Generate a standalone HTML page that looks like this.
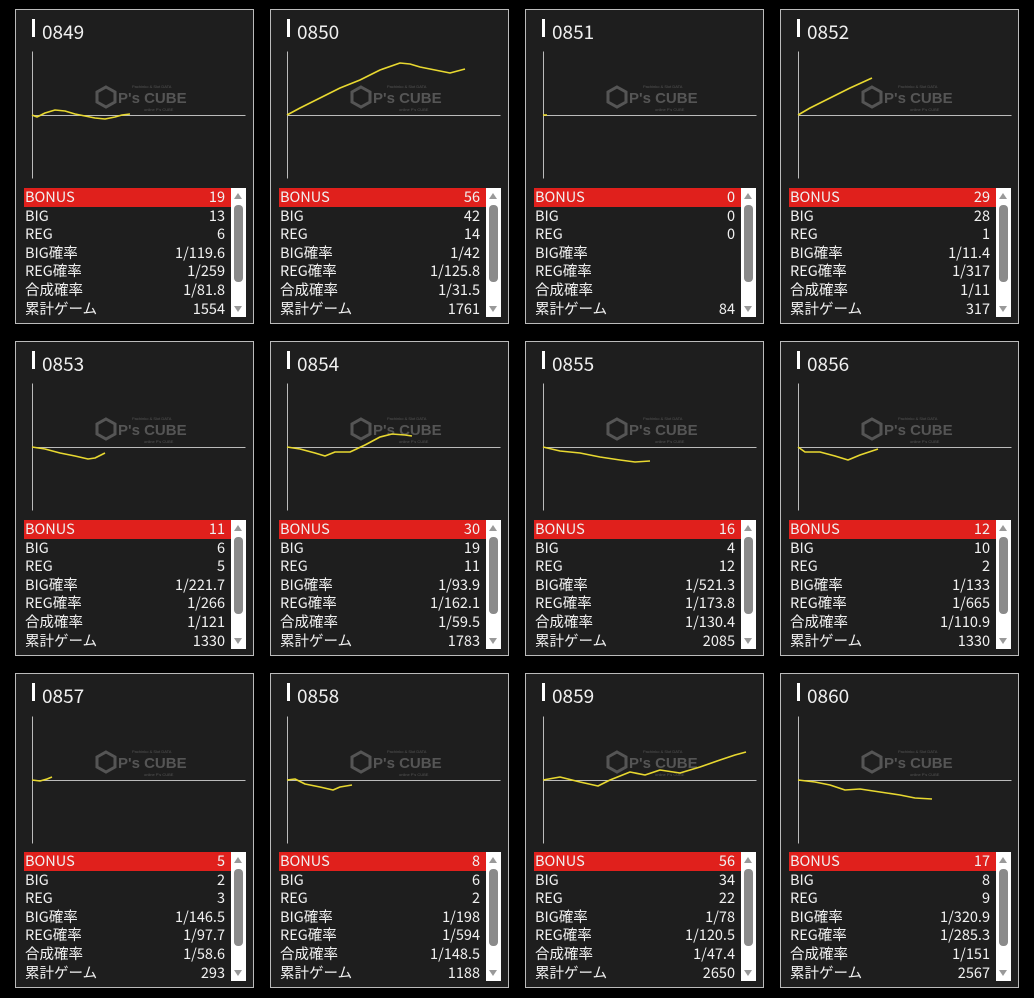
<!DOCTYPE html>
<html><head><meta charset="utf-8"><style>
body{margin:0;background:#000;width:1034px;height:998px;position:relative;overflow:hidden;font-family:"Liberation Sans","Noto Sans CJK JP",sans-serif;color:#f0f0f0}
.c{position:absolute;width:237px;height:313px;border:1px solid #bbb;background:#1e1e1e}
.bar{position:absolute;left:16px;top:9px;width:3px;height:18px;background:#fff}
.t{position:absolute;left:26px;top:11px;font-size:19px;line-height:22px;font-family:"Noto Sans CJK JP","Liberation Sans",sans-serif}
.tb{position:absolute;left:8px;top:178px;width:207px;font-size:14.5px;font-family:"Noto Sans CJK JP","Liberation Sans",sans-serif}
.r{height:18.6px;line-height:18.6px;display:flex;justify-content:space-between;padding:0 6px 0 1px}
.r.b{background:#e0201c}
.sb{position:absolute;left:215px;top:178px;width:15px;height:129px;background:#fff}
.sb i{position:absolute;left:3px;top:17px;width:9px;height:77px;background:#8a8a8a;border-radius:4px}
.sb u{position:absolute;left:3px;top:5px;border:4px solid transparent;border-bottom:6px solid #999;border-top:0;width:0;height:0}
.sb s{position:absolute;left:3px;bottom:5px;border:4px solid transparent;border-top:6px solid #999;border-bottom:0;width:0;height:0}
svg{position:absolute;left:0;top:0}
</style></head><body>
<div class="c" style="left:15px;top:9px"><div class="bar"></div><div class="t">0849</div><div class="tb"><div class="r b"><span>BONUS</span><span>19</span></div><div class="r"><span>BIG</span><span>13</span></div><div class="r"><span>REG</span><span>6</span></div><div class="r"><span>BIG確率</span><span>1/119.6</span></div><div class="r"><span>REG確率</span><span>1/259</span></div><div class="r"><span>合成確率</span><span>1/81.8</span></div><div class="r"><span>累計ゲーム</span><span>1554</span></div></div><div class="sb"><u></u><i></i><s></s></div></div>
<div class="c" style="left:270px;top:9px"><div class="bar"></div><div class="t">0850</div><div class="tb"><div class="r b"><span>BONUS</span><span>56</span></div><div class="r"><span>BIG</span><span>42</span></div><div class="r"><span>REG</span><span>14</span></div><div class="r"><span>BIG確率</span><span>1/42</span></div><div class="r"><span>REG確率</span><span>1/125.8</span></div><div class="r"><span>合成確率</span><span>1/31.5</span></div><div class="r"><span>累計ゲーム</span><span>1761</span></div></div><div class="sb"><u></u><i></i><s></s></div></div>
<div class="c" style="left:525px;top:9px"><div class="bar"></div><div class="t">0851</div><div class="tb"><div class="r b"><span>BONUS</span><span>0</span></div><div class="r"><span>BIG</span><span>0</span></div><div class="r"><span>REG</span><span>0</span></div><div class="r"><span>BIG確率</span><span></span></div><div class="r"><span>REG確率</span><span></span></div><div class="r"><span>合成確率</span><span></span></div><div class="r"><span>累計ゲーム</span><span>84</span></div></div><div class="sb"><u></u><i></i><s></s></div></div>
<div class="c" style="left:780px;top:9px"><div class="bar"></div><div class="t">0852</div><div class="tb"><div class="r b"><span>BONUS</span><span>29</span></div><div class="r"><span>BIG</span><span>28</span></div><div class="r"><span>REG</span><span>1</span></div><div class="r"><span>BIG確率</span><span>1/11.4</span></div><div class="r"><span>REG確率</span><span>1/317</span></div><div class="r"><span>合成確率</span><span>1/11</span></div><div class="r"><span>累計ゲーム</span><span>317</span></div></div><div class="sb"><u></u><i></i><s></s></div></div>

<div class="c" style="left:15px;top:341px"><div class="bar"></div><div class="t">0853</div><div class="tb"><div class="r b"><span>BONUS</span><span>11</span></div><div class="r"><span>BIG</span><span>6</span></div><div class="r"><span>REG</span><span>5</span></div><div class="r"><span>BIG確率</span><span>1/221.7</span></div><div class="r"><span>REG確率</span><span>1/266</span></div><div class="r"><span>合成確率</span><span>1/121</span></div><div class="r"><span>累計ゲーム</span><span>1330</span></div></div><div class="sb"><u></u><i></i><s></s></div></div>
<div class="c" style="left:270px;top:341px"><div class="bar"></div><div class="t">0854</div><div class="tb"><div class="r b"><span>BONUS</span><span>30</span></div><div class="r"><span>BIG</span><span>19</span></div><div class="r"><span>REG</span><span>11</span></div><div class="r"><span>BIG確率</span><span>1/93.9</span></div><div class="r"><span>REG確率</span><span>1/162.1</span></div><div class="r"><span>合成確率</span><span>1/59.5</span></div><div class="r"><span>累計ゲーム</span><span>1783</span></div></div><div class="sb"><u></u><i></i><s></s></div></div>
<div class="c" style="left:525px;top:341px"><div class="bar"></div><div class="t">0855</div><div class="tb"><div class="r b"><span>BONUS</span><span>16</span></div><div class="r"><span>BIG</span><span>4</span></div><div class="r"><span>REG</span><span>12</span></div><div class="r"><span>BIG確率</span><span>1/521.3</span></div><div class="r"><span>REG確率</span><span>1/173.8</span></div><div class="r"><span>合成確率</span><span>1/130.4</span></div><div class="r"><span>累計ゲーム</span><span>2085</span></div></div><div class="sb"><u></u><i></i><s></s></div></div>
<div class="c" style="left:780px;top:341px"><div class="bar"></div><div class="t">0856</div><div class="tb"><div class="r b"><span>BONUS</span><span>12</span></div><div class="r"><span>BIG</span><span>10</span></div><div class="r"><span>REG</span><span>2</span></div><div class="r"><span>BIG確率</span><span>1/133</span></div><div class="r"><span>REG確率</span><span>1/665</span></div><div class="r"><span>合成確率</span><span>1/110.9</span></div><div class="r"><span>累計ゲーム</span><span>1330</span></div></div><div class="sb"><u></u><i></i><s></s></div></div>

<div class="c" style="left:15px;top:673px"><div class="bar"></div><div class="t">0857</div><div class="tb"><div class="r b"><span>BONUS</span><span>5</span></div><div class="r"><span>BIG</span><span>2</span></div><div class="r"><span>REG</span><span>3</span></div><div class="r"><span>BIG確率</span><span>1/146.5</span></div><div class="r"><span>REG確率</span><span>1/97.7</span></div><div class="r"><span>合成確率</span><span>1/58.6</span></div><div class="r"><span>累計ゲーム</span><span>293</span></div></div><div class="sb"><u></u><i></i><s></s></div></div>
<div class="c" style="left:270px;top:673px"><div class="bar"></div><div class="t">0858</div><div class="tb"><div class="r b"><span>BONUS</span><span>8</span></div><div class="r"><span>BIG</span><span>6</span></div><div class="r"><span>REG</span><span>2</span></div><div class="r"><span>BIG確率</span><span>1/198</span></div><div class="r"><span>REG確率</span><span>1/594</span></div><div class="r"><span>合成確率</span><span>1/148.5</span></div><div class="r"><span>累計ゲーム</span><span>1188</span></div></div><div class="sb"><u></u><i></i><s></s></div></div>
<div class="c" style="left:525px;top:673px"><div class="bar"></div><div class="t">0859</div><div class="tb"><div class="r b"><span>BONUS</span><span>56</span></div><div class="r"><span>BIG</span><span>34</span></div><div class="r"><span>REG</span><span>22</span></div><div class="r"><span>BIG確率</span><span>1/78</span></div><div class="r"><span>REG確率</span><span>1/120.5</span></div><div class="r"><span>合成確率</span><span>1/47.4</span></div><div class="r"><span>累計ゲーム</span><span>2650</span></div></div><div class="sb"><u></u><i></i><s></s></div></div>
<div class="c" style="left:780px;top:673px"><div class="bar"></div><div class="t">0860</div><div class="tb"><div class="r b"><span>BONUS</span><span>17</span></div><div class="r"><span>BIG</span><span>8</span></div><div class="r"><span>REG</span><span>9</span></div><div class="r"><span>BIG確率</span><span>1/320.9</span></div><div class="r"><span>REG確率</span><span>1/285.3</span></div><div class="r"><span>合成確率</span><span>1/151</span></div><div class="r"><span>累計ゲーム</span><span>2567</span></div></div><div class="sb"><u></u><i></i><s></s></div></div>

<svg width="1034" height="998">
<defs><g id="w"><polygon points="0,-10 9,-5 9,5 0,10 -9,5 -9,-5" fill="none" stroke="#555" stroke-width="3"/><text x="12" y="6" font-family="Liberation Sans" font-weight="bold" font-size="15" fill="#555">P's CUBE</text><text x="26" y="-9" font-family="Liberation Sans" font-size="4" fill="#555">Pachinko &amp; Slot DATA</text><text x="38" y="14" font-family="Liberation Sans" font-size="4" fill="#555">online P's CUBE</text></g>
<g id="a" stroke="#bbb" stroke-width="1"><line x1="0" y1="-64" x2="0" y2="63"/><line x1="0" y1="0" x2="213" y2="0"/></g></defs>
<g fill="none"><use href="#w" x="106" y="97"/><use href="#w" x="361" y="97"/><use href="#w" x="617" y="97"/><use href="#w" x="872" y="97"/>
<use href="#w" x="106" y="429"/><use href="#w" x="361" y="429"/><use href="#w" x="617" y="429"/><use href="#w" x="872" y="429"/>
<use href="#w" x="106" y="762"/><use href="#w" x="361" y="762"/><use href="#w" x="617" y="762"/><use href="#w" x="872" y="762"/></g>
<use href="#a" x="32.5" y="115.5"/><use href="#a" x="287.5" y="115.5"/><use href="#a" x="543.5" y="115.5"/><use href="#a" x="798.5" y="115.5"/>
<use href="#a" x="32.5" y="447.5"/><use href="#a" x="287.5" y="447.5"/><use href="#a" x="543.5" y="447.5"/><use href="#a" x="798.5" y="447.5"/>
<use href="#a" x="32.5" y="780.5"/><use href="#a" x="287.5" y="780.5"/><use href="#a" x="543.5" y="780.5"/><use href="#a" x="798.5" y="780.5"/>
<g fill="none" stroke="#e8d830" stroke-width="1.6" stroke-linejoin="round">
<polyline points="32,115 37,117 45,113 55,110 65,111 75,114 85,116 95,118 105,119 115,117 122,115 130,114"/>
<polyline points="287,115 300,108 320,98 340,88 360,80 380,70 400,63 410,64 420,67 435,70 450,73 465,69"/>
<polyline points="543,115 547,115"/>
<polyline points="798,115 810,108 830,98 850,88 872,78"/>
<polyline points="32,447 45,449 60,453 75,456 88,459 95,458 105,453"/>
<polyline points="287,447 300,449 315,453 325,456 335,452 350,452 365,445 380,437 392,434 405,435 412,436"/>
<polyline points="543,447 560,451 580,453 600,457 620,460 635,462 650,461"/>
<polyline points="798,447 805,452 820,452 835,456 848,460 860,455 878,449"/>
<polyline points="32,780 40,781 47,779 52,777"/>
<polyline points="287,780 295,779 305,784 320,787 333,790 340,787 352,785"/>
<polyline points="543,780 560,777 580,782 598,786 610,780 630,772 645,775 660,770 680,773 700,767 720,760 735,755 746,752"/>
<polyline points="798,780 815,782 830,785 845,790 860,789 880,792 900,795 915,798 932,799"/>
</g></svg>
</body></html>
